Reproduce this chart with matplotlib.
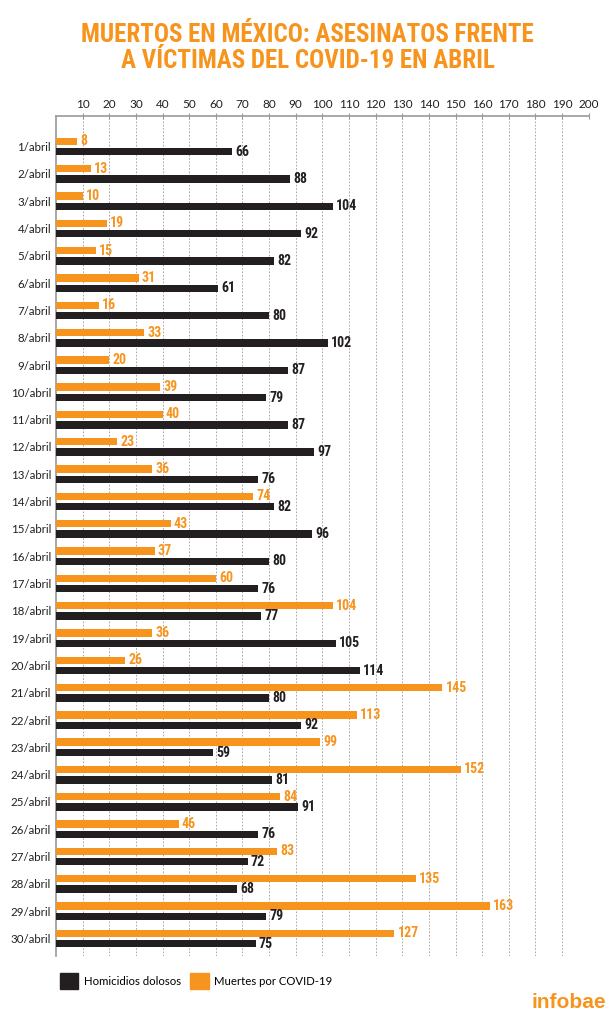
import matplotlib.pyplot as plt
import matplotlib.font_manager as fm
from matplotlib.patches import Patch
import numpy as np

days = [f"{d}/abril" for d in range(1, 31)]
homicidios = [66, 88, 104, 92, 82, 61, 80, 102, 87, 79, 87, 97, 76, 82, 96,
              80, 76, 77, 105, 114, 80, 92, 59, 81, 91, 76, 72, 68, 79, 75]
covid = [8, 13, 10, 19, 15, 31, 16, 33, 20, 39, 40, 23, 36, 74, 43,
         37, 60, 104, 36, 26, 145, 113, 99, 152, 84, 46, 83, 135, 163, 127]
xticks = list(range(10, 201, 10))

ORANGE = "#F7941D"
BLACK = "#231F20"
GRID = "#9A9A9A"

names = {f.name for f in fm.fontManager.ttflist}
def pick(*cands):
    for c in cands:
        if c in names:
            return c
    return "DejaVu Sans"

narrow = pick("Roboto Condensed", "Liberation Sans Narrow", "Roboto")
body = pick("Lato", "Roboto", "Open Sans")

fig = plt.figure(figsize=(6.09, 10.24), dpi=100)
ax = fig.add_axes([56 / 609, 1 - 956 / 1024, (588.7 - 56) / 609, (956 - 116) / 1024])

y = np.arange(len(days))
off = 0.19
h = 0.27
ax.barh(y - off, covid, height=h, color=ORANGE, zorder=3)
ax.barh(y + off, homicidios, height=h, color=BLACK, zorder=3)

for i in range(len(days)):
    ax.text(covid[i] + 1.2, y[i] - off, str(covid[i]), color=ORANGE, fontsize=10,
            fontweight="bold", family=narrow, va="center", ha="left")
    ax.text(homicidios[i] + 1.2, y[i] + off, str(homicidios[i]), color=BLACK, fontsize=10,
            fontweight="bold", family=narrow, va="center", ha="left")

ax.set_xlim(0, 200)
ax.set_ylim(29.64, -1.12)
ax.set_yticks(y)
ax.set_yticklabels(days, family=body, fontsize=8.3, color=BLACK)
ax.set_xticks(xticks)
ax.set_xticklabels([str(t) for t in xticks], family=body, fontsize=8.5, color=BLACK)
ax.xaxis.tick_top()
ax.tick_params(axis="x", direction="inout", length=5, width=0.8, color=GRID, pad=2)
ax.tick_params(axis="y", length=0, pad=3.5)
ax.grid(axis="x", color=GRID, linestyle=(0, (2, 2)), linewidth=0.6, zorder=0)
for s in ["right", "bottom"]:
    ax.spines[s].set_visible(False)
for s in ["top", "left"]:
    ax.spines[s].set_color(GRID)
    ax.spines[s].set_linewidth(1.2)

fig.text(0.505, 1 - 35 / 1024, "MUERTOS EN MÉXICO: ASESINATOS FRENTE",
         ha="center", va="center", color=ORANGE, fontsize=18, fontweight="bold", family=narrow)
fig.text(0.505, 1 - 61 / 1024, "A VÍCTIMAS DEL COVID-19 EN ABRIL",
         ha="center", va="center", color=ORANGE, fontsize=18, fontweight="bold", family=narrow)

handles = [Patch(color=BLACK, label="Homicidios dolosos"),
           Patch(color=ORANGE, label="Muertes por COVID-19")]
fig.legend(handles=handles, loc="center left", bbox_to_anchor=(50 / 609, 1 - 981 / 1024),
           ncol=2, frameon=False, handlelength=1.6, handleheight=1.75, handletextpad=0.5,
           columnspacing=0.8, prop={"family": body, "size": 8.2})

fig.text(606 / 609, 1 - 1003 / 1024, "infobae", ha="right", va="center", color=ORANGE,
         fontsize=15, fontweight="bold", family="Liberation Sans")

fig.savefig("out.png", dpi=100, facecolor="white")
